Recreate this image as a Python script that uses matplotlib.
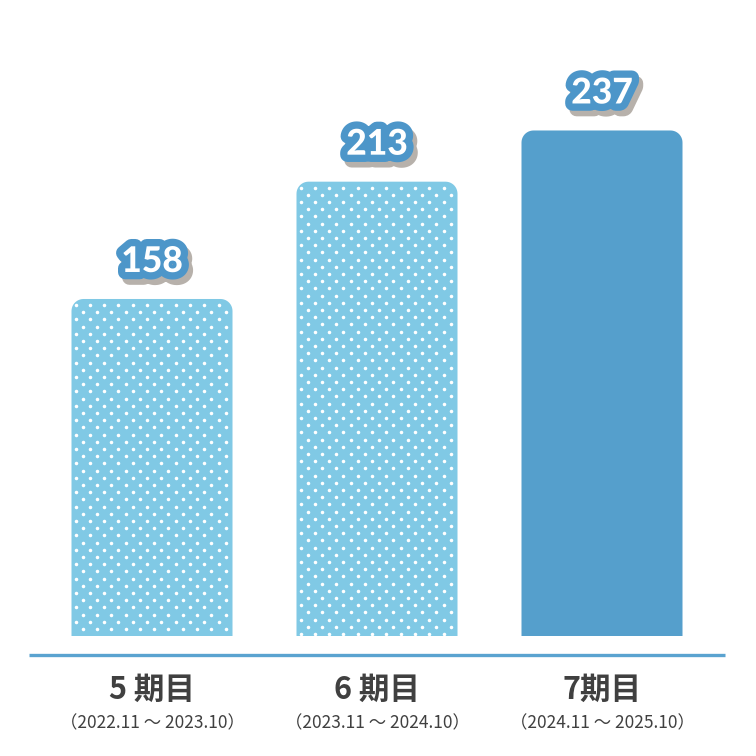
import numpy as np
import matplotlib
matplotlib.use('Agg')
import matplotlib.pyplot as plt
import matplotlib.patheffects as pe
from matplotlib.patches import PathPatch
from matplotlib.path import Path

plt.rcParams['font.family'] = ['Noto Sans CJK JP', 'DejaVu Sans']

# data
periods = ['5 期目', '6 期目', '7期目']
ranges = ['（2022.11 ～ 2023.10）', '（2023.11 ～ 2024.10）', '（2024.11 ～ 2025.10）']
values = [158, 213, 237]
dotted = [True, True, False]

light_blue = '#80c9e5'
dark_blue = '#559fcc'
line_blue = '#5aa3d0'
text_grey = '#404040'

W = H = 756
fig = plt.figure(figsize=(7.56, 7.56), dpi=100)
ax = fig.add_axes([0, 0, 1, 1])

# pixel mapping: bar centres at 152 + 225*i, value 0 at y=636 px from top
px_x = 225.0
px_y = 2.133
x0 = 152.0
base = H - 636.0
ax.set_xlim(-x0 / px_x, (W - x0) / px_x)
ax.set_ylim(-base / px_y, (H - base) / px_y)
ax.axis('off')

bar_w = 161 / px_x
r_px = 12
r_x = r_px / px_x
r_y = r_px / px_y


def top_rounded_bar(left, width, height):
    # rectangle with rounded top corners, square bottom
    t = np.linspace(0, np.pi / 2, 12)
    pts = [(left, 0), (left + width, 0)]
    cx, cy = left + width - r_x, height - r_y
    pts += [(cx + r_x * np.cos(a), cy + r_y * np.sin(a)) for a in t]
    cx = left + r_x
    pts += [(cx + r_x * np.cos(a), cy + r_y * np.sin(a)) for a in t + np.pi / 2]
    pts.append((left, 0))
    return Path(pts, closed=True)


for i, v in enumerate(values):
    col = light_blue if dotted[i] else dark_blue
    left = i - bar_w / 2
    bar = PathPatch(top_rounded_bar(left, bar_w, v), facecolor=col,
                    edgecolor='none', zorder=2)
    ax.add_patch(bar)

    if dotted[i]:
        # staggered white dots
        dx = 14.3 / px_x
        dy = 7.2 / px_y
        xs, ys = [], []
        row = 0
        y = v - 6 / px_y
        while y > 0:
            shift = 0 if row % 2 == 0 else dx / 2
            x = left + 4 / px_x + shift
            while x < left + bar_w:
                xs.append(x)
                ys.append(y)
                x += dx
            y -= dy
            row += 1
        dots = ax.scatter(xs, ys, s=6.5, marker='o', color='white',
                          linewidths=0, zorder=3)
        dots.set_clip_path(bar)

    ax.annotate(str(v), (i, v), xytext=(0, 37), textcoords='offset pixels',
                ha='center', va='center', fontsize=25.5, fontweight='black',
                family=['Lato', 'DejaVu Sans'], color='white', zorder=5,
                path_effects=[pe.Stroke(offset=(3, -4), linewidth=10.5, foreground='#b7b1ab'),
                              pe.Stroke(linewidth=10.5, foreground='#4d96c9'),
                              pe.Normal()])

    ax.text(i, -(690 - 636) / px_y, periods[i], ha='center', va='center',
            fontsize=22, fontweight='bold', color=text_grey)
    ax.text(i, -(723 - 636) / px_y, ranges[i], ha='center', va='center',
            fontsize=12.5, color=text_grey)

# baseline
ax.plot([-(x0 - 29) / px_x, (725 - x0) / px_x], [-(655 - 636) / px_y] * 2,
        color=line_blue, linewidth=2.4, solid_capstyle='butt', zorder=2)

fig.savefig('out.png', dpi=100)
